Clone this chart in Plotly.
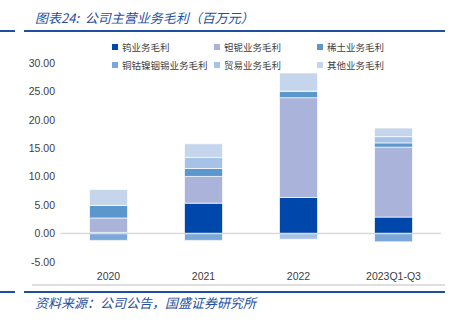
import plotly.graph_objects as go

# Gross profit by business line (million yuan)
years = ["2020", "2021", "2022", "2023Q1-Q3"]
tungsten = [0.2, 5.35, 6.35, 2.9]
tantalum_niobium = [2.55, 4.7, 17.55, 12.3]
rare_earth = [2.2, 1.4, 1.15, 0.75]
copper_cobalt_nickel = [-1.2, -1.2, 0.0, -1.45]
trading = [0.0, 1.95, -1.0, 1.1]
other = [2.8, 2.4, 3.2, 1.5]

series_names = ["钨业务毛利", "钽铌业务毛利", "稀土业务毛利",
                "铜钴镍铟锡业务毛利", "贸易业务毛利", "其他业务毛利"]
series_values = [tungsten, tantalum_niobium, rare_earth,
                 copper_cobalt_nickel, trading, other]
colors = ["#0047ab", "#aab4db", "#5b96cc", "#7ba7db", "#a6c3e7", "#c5d6ec"]

y_ticks = [-5, 0, 5, 10, 15, 20, 25, 30]

W, H = 455, 324
L, R, T, B = 61, 14, 63, 62
PW, PH = W - L - R, H - T - B


def px(x):
    return (x - L) / PW


def py(y):
    return (H - B - y) / PH


fig = go.Figure()
for name, vals, col in zip(series_names, series_values, colors):
    fig.add_trace(go.Bar(
        x=years, y=vals, name=name, width=0.4,
        marker=dict(color=col, line=dict(color="rgba(255,255,255,0.85)", width=0.8)),
    ))

shapes = [
    # zero line over the bars
    dict(type="line", xref="paper", yref="y", x0=0, x1=1, y0=0, y1=0,
         line=dict(color="#d9d9d9", width=1.5), layer="above"),
    # grey rule under the category labels
    dict(type="line", xref="paper", yref="paper", x0=px(32), x1=px(445),
         y0=py(285), y1=py(285), line=dict(color="#bfbfbf", width=1)),
]
# blue header / footer rules
for yy in (31, 292):
    shapes.append(dict(type="line", xref="paper", yref="paper", x0=px(0), x1=px(15),
                       y0=py(yy), y1=py(yy), line=dict(color="#1f4fa0", width=2)))
    shapes.append(dict(type="line", xref="paper", yref="paper", x0=px(24), x1=px(445),
                       y0=py(yy), y1=py(yy), line=dict(color="#1f4fa0", width=2)))

annotations = [
    dict(text="图表24:  公司主营业务毛利（百万元）", xref="paper", yref="paper",
         x=px(33), y=py(17), xanchor="left", yanchor="middle", showarrow=False,
         font=dict(family="Noto Sans CJK SC", size=13, color="#1f4fa0", style="italic")),
    dict(text="资料来源：公司公告，国盛证券研究所", xref="paper", yref="paper",
         x=px(33), y=py(302), xanchor="left", yanchor="middle", showarrow=False,
         font=dict(family="Noto Sans CJK SC", size=13, color="#1f4fa0", style="italic")),
]

# legend: three columns, two rows
leg_x = [112, 214, 317]
leg_y = [47, 65]
for i, (name, col) in enumerate(zip(series_names, colors)):
    cx = leg_x[i % 3]
    cy = leg_y[i // 3]
    shapes.append(dict(type="rect", xref="paper", yref="paper",
                       x0=px(cx), x1=px(cx + 6), y0=py(cy - 3), y1=py(cy + 3),
                       fillcolor=col, line=dict(width=0)))
    annotations.append(dict(text=name, xref="paper", yref="paper",
                            x=px(cx + 8), y=py(cy), xanchor="left", yanchor="middle",
                            showarrow=False,
                            font=dict(family="Noto Sans CJK SC", size=9.5, color="#404040")))

fig.update_layout(
    width=W, height=H,
    margin=dict(l=L, r=R, t=T, b=B),
    barmode="relative",
    showlegend=False,
    plot_bgcolor="white", paper_bgcolor="white",
    font=dict(family="Liberation Sans Narrow, Liberation Sans, Arial", size=10, color="#404040"),
    shapes=shapes,
    annotations=annotations,
    xaxis=dict(showgrid=False, showline=False, ticks="", ticklabelstandoff=6,
               tickfont=dict(size=10.5, color="#404040")),
    yaxis=dict(range=[-5, 30], tickvals=y_ticks,
               ticktext=[f"{v:.2f}" for v in y_ticks],
               showgrid=False, zeroline=False, showline=False, ticks="",
               ticklabelstandoff=5, tickfont=dict(size=10.5, color="#404040")),
)

fig.write_html("out.html")
